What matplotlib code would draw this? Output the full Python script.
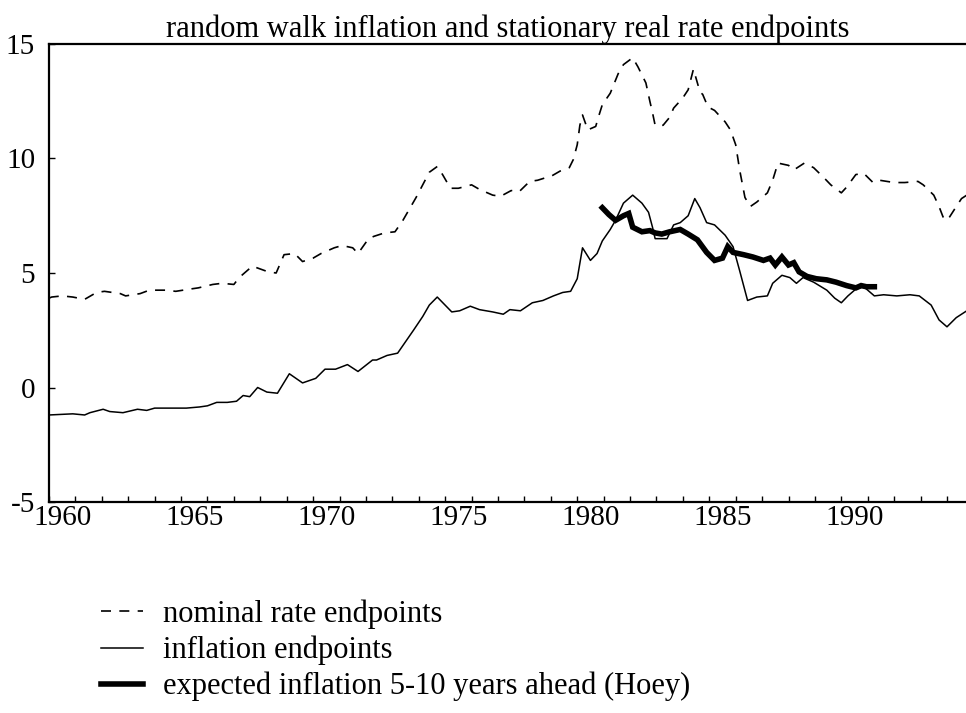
import numpy as np
import matplotlib
matplotlib.use("Agg")
import matplotlib.pyplot as plt
from matplotlib.ticker import FixedLocator, MultipleLocator

plt.rcParams["font.family"] = ["Liberation Serif", "DejaVu Serif"]

# nominal rate endpoints (dashed)
nom_years = [1960.0, 1960.1, 1960.5, 1960.9, 1961.35, 1961.8, 1962.1, 1962.7, 1962.9, 1963.45,
             1963.8, 1964.4, 1964.8, 1965.35, 1965.65, 1966.2, 1966.55, 1967.0, 1967.2, 1967.7,
             1968.3, 1968.6, 1968.9, 1969.3, 1969.6, 1970.0, 1970.3, 1970.8, 1971.1, 1971.5,
             1971.7, 1972.1, 1972.3, 1972.7, 1973.1, 1973.4, 1973.9, 1974.4, 1974.7, 1974.9,
             1975.2, 1975.5, 1976.0, 1976.3, 1976.8, 1977.1, 1977.5, 1977.8, 1978.2, 1978.5,
             1979.05, 1979.35, 1979.7, 1979.85, 1980.0, 1980.1, 1980.2, 1980.4, 1980.7, 1980.8,
             1980.95, 1981.25, 1981.55, 1981.75, 1982.1, 1982.3, 1982.6, 1982.75, 1982.85, 1982.95,
             1983.25, 1983.5, 1983.65, 1984.0, 1984.2, 1984.4, 1984.65, 1984.75, 1984.95, 1985.2,
             1985.6, 1985.8, 1986.0, 1986.15, 1986.3, 1986.35, 1986.55, 1986.8, 1987.2, 1987.4,
             1987.6, 1988.0, 1988.2, 1988.6, 1988.95, 1989.35, 1989.6, 1990.0, 1990.2, 1990.55,
             1990.85, 1991.2, 1991.45, 1992.0, 1992.4, 1992.9, 1993.1, 1993.5, 1993.7, 1993.85,
             1994.0, 1994.1, 1994.35, 1994.55, 1994.75]
nom_vals = [3.9, 3.95, 4.0, 3.95, 3.85, 4.15, 4.2, 4.1, 4.0, 4.1,
            4.25, 4.25, 4.2, 4.3, 4.35, 4.5, 4.55, 4.5, 4.8, 5.3,
            5.05, 5.0, 5.8, 5.85, 5.5, 5.65, 5.85, 6.1, 6.2, 6.1,
            5.85, 6.5, 6.6, 6.75, 6.8, 7.3, 8.3, 9.4, 9.65, 9.3,
            8.7, 8.7, 8.85, 8.65, 8.4, 8.35, 8.6, 8.55, 9.0, 9.05,
            9.25, 9.45, 9.6, 9.95, 10.6, 11.45, 11.9, 11.25, 11.4, 11.8,
            12.35, 12.85, 13.7, 14.1, 14.4, 14.0, 13.3, 12.5, 12.0, 11.45,
            11.45, 11.8, 12.2, 12.65, 13.0, 13.9, 12.9, 12.8, 12.25, 12.1,
            11.6, 11.25, 10.6, 9.5, 8.6, 8.3, 7.9, 8.1, 8.5, 9.05,
            9.8, 9.7, 9.5, 9.8, 9.6, 9.15, 8.85, 8.5, 8.75, 9.3,
            9.35, 8.95, 9.05, 8.95, 8.95, 9.0, 8.85, 8.4, 7.9, 7.45,
            7.3, 7.45, 7.9, 8.25, 8.4]

# inflation endpoints (thin solid)
inf_years = [1960.0, 1960.9, 1961.35, 1961.55, 1962.05, 1962.3, 1962.8, 1963.35, 1963.7, 1964.0,
             1964.7, 1965.2, 1965.7, 1966.0, 1966.35, 1966.75, 1967.1, 1967.35, 1967.6, 1967.9,
             1968.25, 1968.65, 1969.1, 1969.6, 1970.1, 1970.45, 1970.85, 1971.3, 1971.7, 1972.25,
             1972.4, 1972.8, 1973.2, 1973.5, 1973.8, 1974.15, 1974.4, 1974.7, 1975.25, 1975.55,
             1975.95, 1976.3, 1976.8, 1977.2, 1977.45, 1977.85, 1978.3, 1978.7, 1979.1, 1979.45,
             1979.75, 1980.0, 1980.2, 1980.5, 1980.75, 1980.95, 1981.25, 1981.45, 1981.75, 1982.1,
             1982.45, 1982.7, 1982.85, 1982.95, 1983.4, 1983.65, 1983.9, 1984.2, 1984.45, 1984.65,
             1984.9, 1985.2, 1985.6, 1985.9, 1986.15, 1986.45, 1986.8, 1987.2, 1987.4, 1987.75,
             1988.05, 1988.3, 1988.55, 1988.95, 1989.45, 1989.75, 1990.0, 1990.25, 1990.55, 1990.85,
             1991.25, 1991.6, 1992.1, 1992.6, 1992.95, 1993.4, 1993.7, 1994.0, 1994.35, 1994.75]
inf_vals = [-1.2, -1.15, -1.2, -1.1, -0.95, -1.05, -1.1, -0.95, -1.0, -0.9,
            -0.9, -0.9, -0.85, -0.8, -0.65, -0.65, -0.6, -0.35, -0.4, 0.0,
            -0.2, -0.25, 0.6, 0.2, 0.4, 0.8, 0.8, 1.0, 0.7, 1.2,
            1.2, 1.4, 1.5, 2.0, 2.5, 3.1, 3.6, 3.95, 3.3, 3.35,
            3.55, 3.4, 3.3, 3.2, 3.4, 3.35, 3.7, 3.8, 4.0, 4.15,
            4.2, 4.75, 6.1, 5.55, 5.85, 6.4, 6.9, 7.3, 8.05, 8.4,
            8.05, 7.65, 7.0, 6.5, 6.5, 7.1, 7.2, 7.5, 8.25, 7.85,
            7.2, 7.1, 6.65, 6.15, 5.1, 3.8, 3.95, 4.0, 4.55, 4.9,
            4.8, 4.55, 4.8, 4.6, 4.25, 3.9, 3.7, 4.0, 4.3, 4.4,
            4.0, 4.05, 4.0, 4.05, 4.0, 3.6, 2.95, 2.65, 3.05, 3.35]

# expected inflation 5-10 years ahead (Hoey), thick
hoey_years = [1980.95, 1981.2, 1981.45, 1981.75, 1981.95, 1982.1, 1982.45, 1982.75, 1982.95, 1983.2,
              1983.5, 1983.9, 1984.2, 1984.55, 1984.9, 1985.2, 1985.5, 1985.7, 1985.9, 1986.3,
              1986.65, 1987.05, 1987.3, 1987.5, 1987.75, 1988.0, 1988.2, 1988.4, 1988.7, 1989.05,
              1989.45, 1989.8, 1990.2, 1990.55, 1990.75, 1990.95, 1991.25]
hoey_vals = [7.85, 7.55, 7.3, 7.5, 7.6, 7.0, 6.8, 6.85, 6.75, 6.7,
             6.8, 6.9, 6.7, 6.45, 5.9, 5.55, 5.65, 6.15, 5.9, 5.8,
             5.7, 5.55, 5.65, 5.35, 5.7, 5.35, 5.45, 5.05, 4.85, 4.75,
             4.7, 4.6, 4.45, 4.35, 4.45, 4.4, 4.4]

year_labels = [1960, 1965, 1970, 1975, 1980, 1985, 1990]

fig = plt.figure(figsize=(9.66, 7.13), dpi=100)
ax = fig.add_axes([49 / 966, 1 - 502 / 713, 1 - 49 / 966, (502 - 44) / 713])

ax.plot(nom_years, nom_vals, color="black", lw=1.2, linestyle=(0, (6, 5)),
        label="nominal rate endpoints")
ax.plot(inf_years, inf_vals, color="black", lw=1.1, label="inflation endpoints")
ax.plot(hoey_years, hoey_vals, color="black", lw=4.0, solid_joinstyle="miter",
        label="expected inflation 5-10 years ahead (Hoey)")

ax.set_xlim(1960, 1994.72)
ax.set_ylim(-5, 15)
ax.set_yticks([-5, 0, 5, 10, 15])
ax.set_yticklabels(["-5", "0", "5", "10", "15"])

# year labels sit in the middle of each year; ticks mark the year starts
ax.xaxis.set_major_locator(FixedLocator([y + 0.5 for y in year_labels]))
ax.set_xticklabels([str(y) for y in year_labels])
ax.xaxis.set_minor_locator(MultipleLocator(1))
ax.tick_params(axis="x", which="major", length=0, pad=2, labelsize=21)
ax.tick_params(axis="x", which="minor", direction="in", length=4, width=1)
ax.tick_params(axis="y", direction="in", length=4, width=1, pad=10, labelsize=21)
for lab in ax.get_yticklabels():
    lab.set_verticalalignment("center_baseline")

for s in ["left", "bottom", "top"]:
    ax.spines[s].set_linewidth(1.6)
ax.spines["right"].set_visible(False)

ax.set_title("random walk inflation and stationary real rate endpoints", fontsize=22, pad=4)

fig.legend(loc="upper left", bbox_to_anchor=(73 / 966, 1 - 572 / 713), frameon=False,
           fontsize=22, handlelength=1.4, handletextpad=0.65, labelspacing=0.22,
           borderpad=0.4)

fig.savefig("out.png", dpi=100)
